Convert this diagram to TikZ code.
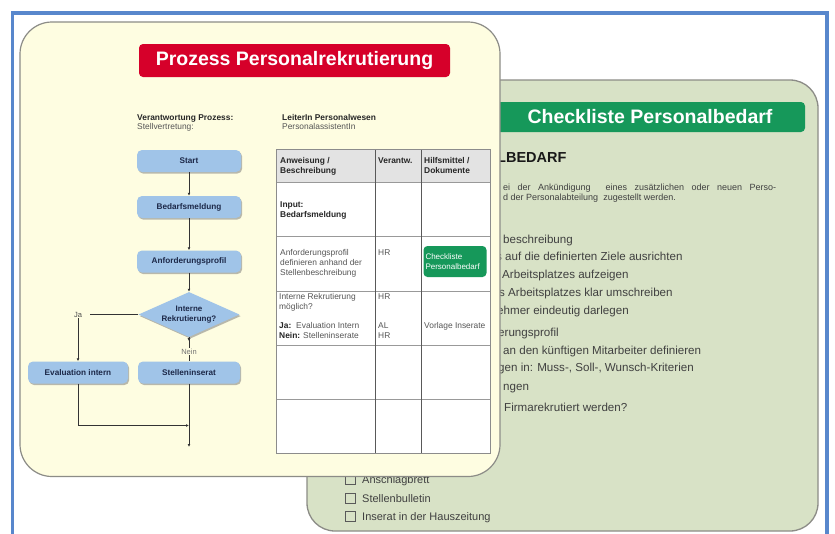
\documentclass[tikz,border=0pt]{standalone}
\usepackage{fontspec}
\setmainfont{Liberation Sans}
\usetikzlibrary{shapes.geometric,arrows.meta,shadows,decorations.markings}
\definecolor{cream}{RGB}{254,253,225}
\definecolor{sage}{RGB}{216,226,198}
\definecolor{redt}{RGB}{214,0,42}
\definecolor{greent}{RGB}{22,152,90}
\definecolor{frameblue}{RGB}{88,135,204}
\definecolor{boxblue}{RGB}{160,196,232}
\definecolor{navy}{RGB}{28,40,72}
\definecolor{txtgray}{RGB}{85,85,85}
\definecolor{cardedge}{RGB}{140,140,135}
\begin{document}
\begin{tikzpicture}[x=1pt,y=-1pt,
  fbox/.style={fill=boxblue, rounded corners=5pt, minimum width=104pt, minimum height=22pt,
    inner sep=1pt, font=\fontsize{8.2}{9.5}\selectfont\bfseries, text=navy,
    drop shadow={shadow xshift=1.2pt, shadow yshift=-1.6pt, fill=black!50, opacity=0.55}},
  fdia/.style={diamond, aspect=2.2, fill=boxblue, minimum width=101pt, minimum height=45pt,
    inner sep=0pt, align=center, font=\fontsize{8}{9.5}\selectfont\bfseries, text=navy,
    drop shadow={shadow xshift=1.2pt, shadow yshift=-1.6pt, fill=black!50, opacity=0.55}},
  arr/.style={draw=black!80, line width=0.6pt, -{Latex[length=3pt,width=2.8pt]}},
  ln/.style={draw=black!80, line width=0.6pt},
  tb/.style={anchor=base west, inner sep=0pt, font=\fontsize{8.4}{9}\selectfont\bfseries, text=black!85},
  tr/.style={anchor=base west, inner sep=0pt, font=\fontsize{8.4}{9}\selectfont, text=txtgray},
  gl/.style={anchor=base west, inner sep=0pt, font=\fontsize{11.6}{13}\selectfont, text=black!75},
  gc/.style={anchor=base west, inner sep=0pt, font=\fontsize{11}{13}\selectfont, text=black!75},
  gs/.style={anchor=base west, inner sep=0pt, font=\fontsize{9}{11}\selectfont, text=black!75},
  cbox/.style={draw=black!65, line width=0.7pt, minimum width=10pt, minimum height=10pt, inner sep=0pt},
  ]
\useasboundingbox (0,0) rectangle (835,533);
\fill[white] (0,0) rectangle (835,533);
% blue frame
\draw[frameblue, line width=3.5pt] (12.5,545) -- (12.5,13) -- (827,13) -- (827,545);

% ===== green card (back) =====
\draw[fill=sage, draw=cardedge, line width=1.3pt, rounded corners=28pt] (307,80) rectangle (818,531);
\node[fill=greent, rounded corners=4pt, minimum width=310pt, minimum height=30pt, inner sep=0pt,
  text=white, font=\fontsize{19.5}{22}\selectfont\bfseries] (gtitle) at (650,117) {Checkliste Personalbedarf};
\node[anchor=base west, inner sep=0pt, font=\fontsize{14.5}{16}\selectfont\bfseries, text=black!90] (gh) at (497,162) {LBEDARF};
\node[gs] (g1) at (503,190) {\makebox[273pt][s]{ei der Ankündigung \ eines zusätzlichen oder neuen Perso-}};
\node[gs] (g2) at (503,200) {d der Personalabteilung \ zugestellt werden.};
\node[gl] (l1) at (503,243) {beschreibung};
\node[gl] (l2) at (496,260) {s auf die definierten Ziele ausrichten};
\node[gl] (l3) at (502,278) {Arbeitsplatzes aufzeigen};
\node[gl] (l4) at (499,296) {s Arbeitsplatzes klar umschreiben};
\node[gl] (l5) at (497,314) {ehmer eindeutig darlegen};
\node[gl] (l6) at (498,336) {erungsprofil};
\node[gl] (l7) at (503,354) {an den künftigen Mitarbeiter definieren};
\node[gl] (l8) at (498,371) {gen in: Muss-, Soll-, Wunsch-Kriterien};
\node[gl] (l9) at (503,390) {ngen};
\node[gl] (l10) at (504,411) {Firmarekrutiert werden?};
\node[cbox] (c1) at (350,479.5) {};
\node[gc] (t1) at (362,483.5) {Anschlagbrett};
\node[cbox] (c2) at (350,498.5) {};
\node[gc] (t2) at (362,502.5) {Stellenbulletin};
\node[cbox] (c3) at (350,516) {};
\node[gc] (t3) at (362,520) {Inserat in der Hauszeitung};

% ===== yellow card (front) =====
\draw[fill=cream, draw=cardedge, line width=1.2pt, rounded corners=32pt] (20,22) rectangle (500,476.5);
\node[fill=redt, rounded corners=4pt, minimum width=311pt, minimum height=33pt, inner sep=0pt,
  text=white, font=\fontsize{19.5}{22}\selectfont\bfseries] (rtitle) at (294.5,60.5) {Prozess Personalrekrutierung};

\node[tb] (h1) at (137,120.5) {Verantwortung Prozess:};
\node[tr] (h2) at (137,129.5) {Stellvertretung:};
\node[tb] (h3) at (282,120.5) {LeiterIn Personalwesen};
\node[tr] (h4) at (282,129.5) {PersonalassistentIn};

% flowchart
\node[fbox] (start) at (189,161) {Start};
\node[fbox] (bed) at (189,207) {Bedarfsmeldung};
\node[fbox] (anf) at (189,261.5) {Anforderungsprofil};
\node[fdia] (dia) at (189,314.5) {Interne\\Rekrutierung?};
\node[fbox, minimum width=100pt] (eval) at (78,372.5) {Evaluation intern};
\node[fbox, minimum width=102pt] (stell) at (189,372.5) {Stelleninserat};
\node[inner sep=1pt, font=\fontsize{7.5}{8}\selectfont, text=black!70] (ja) at (78,314.5) {Ja};
\coordinate (join) at (189,425.5);
\coordinate (endc) at (189,447);

\draw[arr] (start) -- (bed);
\draw[arr] (bed) -- (anf);
\draw[arr] (anf) -- (dia);
\draw[ln, shorten >=7pt] (dia.west) -- (ja.east);
\draw[arr] (ja.south) -- (eval.north);
\draw[ln, postaction={decorate}, decoration={markings, mark=at position 4pt with {\arrow{Latex[length=3pt,width=2.8pt]}}}]
  (dia.south) -- node[fill=cream, inner sep=1pt, font=\fontsize{7.5}{8}\selectfont, text=black!55, pos=0.6] (nein) {Nein} (stell.north);
\draw[arr] (eval.south) |- (join);
\draw[arr] (stell.south) -- (endc);

% table
\fill[white] (276,149) rectangle (490,453);
\fill[black!11] (276,149) rectangle (490,182);
\foreach \yy in {182,236,291,345,399} \draw[black!40, line width=0.8pt] (276,\yy) -- (490,\yy);
\draw[black!65, line width=0.8pt] (375,149) -- (375,453);
\draw[black!65, line width=0.8pt] (421,149) -- (421,453);
\draw[black!45, line width=0.8pt] (276,149) rectangle (490,453);

\node[tb] (a1) at (280,163) {Anweisung /};
\node[tb] (a2) at (280,173.5) {Beschreibung};
\node[tb] (a3) at (378,163) {Verantw.};
\node[tb] (a4) at (424,163) {Hilfsmittel /};
\node[tb] (a5) at (424,173.5) {Dokumente};
\node[tb] (b1) at (280,207.5) {Input:};
\node[tb] (b2) at (280,217) {Bedarfsmeldung};
\node[tr] (c1t) at (280,255.5) {Anforderungsprofil};
\node[tr] (c2t) at (280,265.5) {definieren anhand der};
\node[tr] (c3t) at (280,275) {Stellenbeschreibung};
\node[tr] (c4t) at (378,255.5) {HR};
\node[fill=greent, rounded corners=4pt, minimum width=63pt, minimum height=31pt, inner sep=0pt,
  text=white, font=\fontsize{8}{10}\selectfont, align=left, text width=59pt] (chk) at (455,261.5) {Checkliste\\Personalbedarf};
\node[tr] (d1) at (279,299.5) {Interne Rekrutierung};
\node[tr] (d2) at (279,309.5) {möglich?};
\node[tb] (d3) at (279,328.5) {Ja:};
\node[tr] (d4) at (296,328.5) {Evaluation Intern};
\node[tb] (d5) at (279,338.5) {Nein:};
\node[tr] (d6) at (303,338.5) {Stelleninserate};
\node[tr] (d7) at (378,299.5) {HR};
\node[tr] (d8) at (378,328.5) {AL};
\node[tr] (d9) at (378,338.5) {HR};
\node[tr] (d10) at (424,328.5) {Vorlage Inserate};
\end{tikzpicture}
\end{document}
